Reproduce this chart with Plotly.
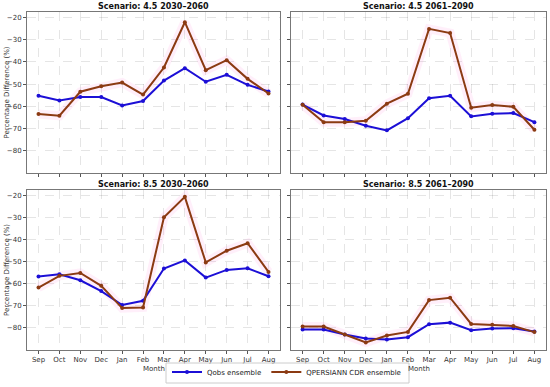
import plotly.graph_objects as go
from plotly.subplots import make_subplots

months = ["Sep", "Oct", "Nov", "Dec", "Jan", "Feb", "Mar", "Apr", "May", "Jun", "Jul", "Aug"]
titles = ["Scenario: 4.5 2030–2060", "Scenario: 4.5 2061–2090",
          "Scenario: 8.5 2030–2060", "Scenario: 8.5 2061–2090"]

qobs_45_early = [-55.2, -57.3, -55.8, -55.8, -59.6, -57.6, -48.4, -42.8, -48.9, -45.8, -50.3, -53.3]
qper_45_early = [-63.4, -64.2, -53.4, -50.9, -49.3, -54.7, -42.5, -22.1, -43.7, -39.2, -47.6, -54.2]
qobs_45_late = [-59.2, -64.1, -65.7, -68.7, -70.8, -65.3, -56.3, -55.2, -64.5, -63.3, -63.0, -67.1]
qper_45_late = [-59.3, -67.2, -67.2, -66.5, -58.8, -54.3, -25.1, -27.0, -60.6, -59.4, -60.2, -70.5]
qobs_85_early = [-56.7, -55.7, -58.4, -63.3, -69.6, -67.7, -53.1, -49.4, -57.2, -53.7, -53.0, -56.6]
qper_85_early = [-61.7, -56.4, -55.1, -60.9, -71.0, -70.7, -29.9, -20.6, -50.3, -45.0, -41.6, -54.6]
qobs_85_late = [-80.7, -80.7, -83.0, -84.8, -85.2, -84.2, -78.3, -77.6, -81.0, -80.3, -80.1, -81.6]
qper_85_late = [-79.4, -79.4, -83.0, -86.6, -83.4, -81.8, -67.4, -66.3, -78.2, -78.6, -79.1, -81.9]

qobs = [qobs_45_early, qobs_45_late, qobs_85_early, qobs_85_late]
qper = [qper_45_early, qper_45_late, qper_85_early, qper_85_late]
y_ticks = [-80, -70, -60, -50, -40, -30, -20]

BLUE = "#1c0fd6"
BROWN = "#8b3a12"
FONT = "DejaVu Sans"

fig = make_subplots(rows=2, cols=2, horizontal_spacing=0.0, vertical_spacing=0.0)

positions = [(1, 1), (1, 2), (2, 1), (2, 2)]
x_idx = list(range(len(months)))
for i, (r, c) in enumerate(positions):
    fig.add_trace(go.Scatter(x=x_idx, y=qper[i], mode="lines",
                             line=dict(color="rgba(255,120,210,0.12)", width=9),
                             showlegend=False, hoverinfo="skip"), row=r, col=c)
    fig.add_trace(go.Scatter(x=x_idx, y=qobs[i], mode="lines+markers", name="Qobs ensemble",
                             line=dict(color=BLUE, width=2), marker=dict(size=4, color=BLUE),
                             showlegend=(i == 0), legendgroup="qobs"), row=r, col=c)
    fig.add_trace(go.Scatter(x=x_idx, y=qper[i], mode="lines+markers", name="QPERSIANN CDR ensemble",
                             line=dict(color=BROWN, width=2), marker=dict(size=4, color=BROWN),
                             showlegend=(i == 0), legendgroup="qper"), row=r, col=c)

W, H = 550, 387
L, R, T, B = 27, 4, 12, 37
pw, ph = W - L - R, H - T - B
xd = [[0, (280 - L) / pw], [(291 - L) / pw, 1]]
yd = [[(H - B - 173) / ph, 1], [0, (H - B - 190) / ph]]

for i, (r, c) in enumerate(positions):
    ax = "" if i == 0 else str(i + 1)
    fig.layout["xaxis" + ax].update(
        domain=xd[c - 1], range=[-0.55, 11.55], tickmode="array", tickvals=x_idx,
        ticktext=months, showticklabels=(r == 2), automargin=False,
        ticks="outside", ticklen=3, tickcolor="#555", showgrid=True,
        gridcolor="rgba(0,0,0,0.10)", griddash="dash", gridwidth=0.6,
        showline=True, mirror=True, linecolor="#777", linewidth=1, zeroline=False,
        tickfont=dict(size=7, color="#333", family=FONT))
    fig.layout["yaxis" + ax].update(
        domain=yd[r - 1], range=[-90, -17.5], tickmode="array", tickvals=y_ticks,
        ticktext=[f"−{abs(v)}" for v in y_ticks], showticklabels=(c == 1), automargin=False,
        ticks="outside", ticklen=3, tickcolor="#555", showgrid=True,
        gridcolor="rgba(0,0,0,0.10)", griddash="dash", gridwidth=0.6,
        showline=True, mirror=True, linecolor="#777", linewidth=1, zeroline=False,
        tickfont=dict(size=7, color="#333", family=FONT))

annotations = []
for i, (r, c) in enumerate(positions):
    xc = (xd[c - 1][0] + xd[c - 1][1]) / 2
    annotations.append(dict(text="<b>" + titles[i] + "</b>", x=xc, y=yd[r - 1][1],
                            xref="paper", yref="paper", xanchor="center", yanchor="bottom",
                            yshift=-1, showarrow=False, font=dict(size=8, color="#111", family=FONT)))
    if c == 1:
        yc = (yd[r - 1][0] + yd[r - 1][1]) / 2
        annotations.append(dict(text="Percentage Difference (%)", x=0, y=yc, xref="paper", yref="paper",
                                xanchor="center", yanchor="middle", xshift=-20, textangle=-90,
                                showarrow=False, font=dict(size=7, color="#333", family=FONT)))
    if r == 2:
        annotations.append(dict(text="Month", x=xc, y=0, xref="paper", yref="paper",
                                xanchor="center", yanchor="top", yshift=-13,
                                showarrow=False, font=dict(size=7, color="#333", family=FONT)))

# legend frame drawn as a thin box (plotly's own legend box is too tall here)
frame = dict(type="rect", xref="paper", yref="paper",
             x0=(166 - L) / pw, x1=(409 - L) / pw,
             y0=-(383 - (H - B)) / ph, y1=-(363 - (H - B)) / ph,
             line=dict(color="#ccc", width=1), fillcolor="rgba(0,0,0,0)", layer="above")

fig.update_layout(
    width=W, height=H, margin=dict(l=L, r=R, t=T, b=B, autoexpand=False),
    plot_bgcolor="white", paper_bgcolor="white",
    annotations=annotations, shapes=[frame],
    legend=dict(orientation="h", x=0.5, xanchor="center", y=-(B - 0.5) / ph, yanchor="bottom",
                bgcolor="rgba(0,0,0,0)", borderwidth=0,
                font=dict(size=7, color="#222", family=FONT),
                tracegroupgap=0, itemwidth=30),
    font=dict(family=FONT),
)

fig.write_html("out.html", config={"displayModeBar": False},
               post_script="document.body.style.margin='0';document.body.style.overflow='hidden';")
